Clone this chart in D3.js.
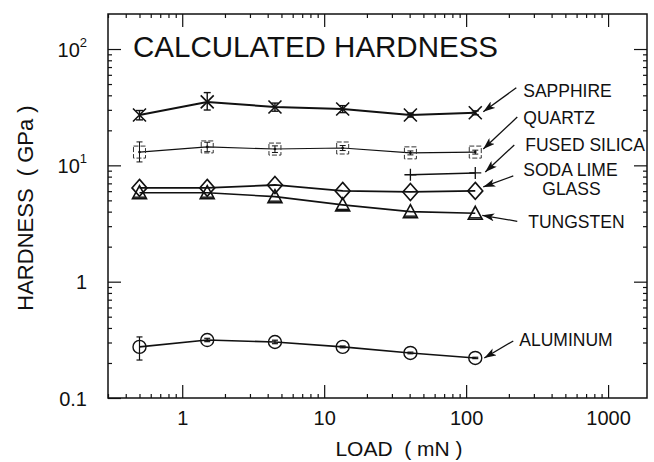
<!DOCTYPE html>
<html><head><meta charset="utf-8">
<script src="https://cdn.jsdelivr.net/npm/d3@7"></script>
<style>
body{margin:0;background:#fff}
svg{display:block}
text{font-family:"Liberation Sans",Arial,Helvetica,sans-serif;fill:#111}
</style>
</head><body>
<svg id="c" width="654" height="462"></svg>
<script>
// ---------- data ----------
const loads = [0.5, 1.5, 4.5, 13.5, 40.5, 116];
const sapphire     = [27.1, 35.1, 31.7, 30.5, 27.1, 28.3];
const sapphireLow  = [24.6, 29.9, 29.2, 28.4, 26.0, 27.2];
const sapphireHigh = [29.6, 42.2, 34.3, 32.6, 28.2, 29.4];
const quartz       = [13.0, 14.4, 13.8, 14.1, 12.8, 13.0];
const quartzLow    = [10.7, 13.1, 12.9, 13.4, 12.3, 12.5];
const quartzHigh   = [15.9, 15.8, 14.7, 14.8, 13.3, 13.5];
const fusedLoads   = [40.5, 116];
const fusedSilica  = [8.3, 8.6];
const sodaLime     = [6.40, 6.40, 6.78, 6.03, 5.91, 6.03];
const tungsten     = [5.82, 5.82, 5.38, 4.57, 4.00, 3.87];
const aluminum     = [0.275, 0.315, 0.303, 0.275, 0.244, 0.221];
const aluminumLow  = [0.212, 0.305, 0.293, 0.270, 0.240, 0.218];
const aluminumHigh = [0.335, 0.326, 0.314, 0.280, 0.248, 0.224];
const xTicks = [1, 10, 100, 1000];
const xTickLabels = ["1", "10", "100", "1000"];
const yTicks = [0.1, 1, 10, 100];
const yTickLabels = [["0.1", ""], ["1", ""], ["10", "1"], ["10", "2"]];
const seriesNames = ["SAPPHIRE", "QUARTZ", "FUSED SILICA", "SODA LIME|GLASS", "TUNGSTEN", "ALUMINUM"];
const title = "CALCULATED HARDNESS";
const xTitle = "LOAD  ( mN )";
const yTitle = "HARDNESS  ( GPa )";

// ---------- layout ----------
const svg = d3.select("#c");
const L = 108, R = 647, T = 14, B = 398;
const x = d3.scaleLog().domain([0.3, 1880]).range([L, R]);
const y = d3.scaleLog().domain([0.1, 200]).range([B, T]);

const minorX = [], minorY = [];
for (let e = -1; e <= 3; e++) for (let m = 2; m <= 9; m++) {
  const v = m * Math.pow(10, e);
  if (v > 0.3 && v < 1880) minorX.push(v);
  if (v > 0.1 && v < 200) minorY.push(v);
}

function axisStyle(g) {
  g.select(".domain").remove();
  g.selectAll("line").attr("stroke", "#111").attr("stroke-width", 1.2);
  g.selectAll("text").attr("fill", "#111").style("font-family", '"Liberation Sans",Arial,sans-serif');
}

// bottom
svg.append("g").attr("transform", `translate(0,${B})`)
  .call(d3.axisBottom(x).tickValues(minorX).tickSize(-4).tickFormat("")).call(axisStyle);
const gb = svg.append("g").attr("transform", `translate(0,${B})`)
  .call(d3.axisBottom(x).tickValues(xTicks).tickSize(-13).tickPadding(13)
    .tickFormat((d, i) => xTickLabels[i])).call(axisStyle);
gb.selectAll("text").attr("font-size", 20);
// top
svg.append("g").attr("transform", `translate(0,${T})`)
  .call(d3.axisTop(x).tickValues(minorX).tickSize(-4).tickFormat("")).call(axisStyle);
svg.append("g").attr("transform", `translate(0,${T})`)
  .call(d3.axisTop(x).tickValues(xTicks).tickSize(-13).tickFormat("")).call(axisStyle);
// left
svg.append("g").attr("transform", `translate(${L},0)`)
  .call(d3.axisLeft(y).tickValues(minorY).tickSize(-4).tickFormat("")).call(axisStyle);
const gl = svg.append("g").attr("transform", `translate(${L},0)`)
  .call(d3.axisLeft(y).tickValues(yTicks).tickSize(-13).tickPadding(21).tickFormat(() => ""))
  .call(axisStyle);
gl.selectAll(".tick text").each(function(d, i) {
  const t = d3.select(this).attr("font-size", 20).attr("dy", "0.36em");
  const lab = yTickLabels[i];
  t.append("tspan").text(lab[0]);
  if (lab[1]) t.append("tspan").attr("font-size", 13).attr("dy", "-0.75em").text(lab[1]);
});
// right
svg.append("g").attr("transform", `translate(${R},0)`)
  .call(d3.axisRight(y).tickValues(minorY).tickSize(-4).tickFormat("")).call(axisStyle);
svg.append("g").attr("transform", `translate(${R},0)`)
  .call(d3.axisRight(y).tickValues(yTicks.filter(v => v > 0.1)).tickSize(-13).tickFormat("")).call(axisStyle);

// frame
svg.append("rect").attr("x", L).attr("y", T).attr("width", R - L).attr("height", B - T)
  .attr("fill", "none").attr("stroke", "#111").attr("stroke-width", 1.5);

// titles
svg.append("text").attr("x", 133).attr("y", 57).attr("font-size", 29.5).text(title);
svg.append("text").attr("x", 399).attr("y", 456).attr("font-size", 21)
  .attr("text-anchor", "middle").style("white-space", "pre").attr("xml:space", "preserve").text(xTitle);
svg.append("text").attr("transform", "translate(33,208) rotate(-90)").attr("font-size", 22)
  .attr("text-anchor", "middle").attr("xml:space", "preserve").style("white-space", "pre").text(yTitle);

// ---------- series ----------
const line = d3.line().x(d => x(d[0])).y(d => y(d[1]));
const zip = (xs, ys) => xs.map((v, i) => [v, ys[i]]);
const plot = svg.append("g");

function drawLine(pts, w) {
  plot.append("path").attr("d", line(pts)).attr("fill", "none")
    .attr("stroke", "#111").attr("stroke-width", w).attr("stroke-linejoin", "round");
}
function drawErr(xs, lo, hi, cap, w) {
  xs.forEach((l, i) => {
    const cx = x(l), y1 = y(lo[i]), y2 = y(hi[i]);
    const g = plot.append("g").attr("stroke", "#111").attr("stroke-width", w);
    g.append("line").attr("x1", cx).attr("x2", cx).attr("y1", y1).attr("y2", y2);
    g.append("line").attr("x1", cx - cap).attr("x2", cx + cap).attr("y1", y1).attr("y2", y1);
    g.append("line").attr("x1", cx - cap).attr("x2", cx + cap).attr("y1", y2).attr("y2", y2);
  });
}

// sapphire
drawLine(zip(loads, sapphire), 2);
drawErr(loads, sapphireLow, sapphireHigh, 3.5, 1.4);
zip(loads, sapphire).forEach(([l, v]) => {
  const cx = x(l), cy = y(v), s = 6.5;
  plot.append("path").attr("d", `M${cx - s},${cy - s}L${cx + s},${cy + s}M${cx - s},${cy + s}L${cx + s},${cy - s}`)
    .attr("stroke", "#111").attr("stroke-width", 1.6).attr("fill", "none");
});

// quartz
drawLine(zip(loads, quartz), 1.1);
drawErr(loads, quartzLow, quartzHigh, 3, 1);
zip(loads, quartz).forEach(([l, v]) => {
  const cx = x(l), cy = y(v), s = 6;
  plot.append("rect").attr("x", cx - s).attr("y", cy - s).attr("width", 2 * s).attr("height", 2 * s)
    .attr("fill", "none").attr("stroke", "#333").attr("stroke-width", 1).attr("stroke-dasharray", "5,2");
  plot.append("circle").attr("cx", cx).attr("cy", cy).attr("r", 1.3).attr("fill", "#111");
});

// fused silica
drawLine(zip(fusedLoads, fusedSilica), 1.4);
zip(fusedLoads, fusedSilica).forEach(([l, v]) => {
  const cx = x(l), cy = y(v), s = 6;
  plot.append("path").attr("d", `M${cx - s},${cy}L${cx + s},${cy}M${cx},${cy - s}L${cx},${cy + s}`)
    .attr("stroke", "#111").attr("stroke-width", 1.3);
});

// soda lime glass
drawLine(zip(loads, sodaLime), 1.8);
zip(loads, sodaLime).forEach(([l, v]) => {
  const cx = x(l), cy = y(v), w = 7.5, h = 8.5;
  plot.append("path").attr("d", `M${cx},${cy - h}L${cx + w},${cy}L${cx},${cy + h}L${cx - w},${cy}Z`)
    .attr("fill", "none").attr("stroke", "#111").attr("stroke-width", 1.6);
});

// tungsten
drawLine(zip(loads, tungsten), 1.6);
zip(loads, tungsten).forEach(([l, v]) => {
  const cx = x(l), cy = y(v), w = 7, h = 12;
  plot.append("path").attr("d", `M${cx},${cy - h / 2 - 1}L${cx + w},${cy + h / 2}L${cx - w},${cy + h / 2}Z`)
    .attr("fill", "none").attr("stroke", "#111").attr("stroke-width", 1.6);
  plot.append("line").attr("x1", cx - w + 1).attr("x2", cx + w - 1).attr("y1", cy + h / 2 - 1.5).attr("y2", cy + h / 2 - 1.5)
    .attr("stroke", "#111").attr("stroke-width", 1.4);
});

// aluminum
drawLine(zip(loads, aluminum), 1.6);
drawErr(loads, aluminumLow, aluminumHigh, 3, 1.2);
zip(loads, aluminum).forEach(([l, v]) => {
  plot.append("circle").attr("cx", x(l)).attr("cy", y(v)).attr("r", 6.5)
    .attr("fill", "none").attr("stroke", "#111").attr("stroke-width", 1.4);
});

// ---------- labels with arrows (anchored to each series' last point) ----------
const lastVals = [sapphire[5], quartz[5], fusedSilica[1], sodaLime[5], tungsten[5], aluminum[5]];
const lastLoad = loads[5];
// offsets relative to last point: tip, tail, label position
const annot = [
  {tip: [8, -1], tail: [41, -25], lab: [48, -16]},
  {tip: [8, -3], tail: [42, -35], lab: [48, -28]},
  {tip: [10, -1], tail: [39, -28], lab: [50, -22]},
  {tip: [8, -4], tail: [38, -15], lab: [48, -15]},
  {tip: [7, 2], tail: [42, 8], lab: [53, 15]},
  {tip: [9, 0], tail: [38, -17], lab: [44, -12]}
];
const defs = svg.append("defs");
defs.append("marker").attr("id", "ah").attr("viewBox", "0 0 12 8").attr("refX", 12).attr("refY", 4)
  .attr("markerWidth", 12).attr("markerHeight", 8).attr("markerUnits", "userSpaceOnUse").attr("orient", "auto")
  .append("path").attr("d", "M0,0L12,4L0,8L3,4Z").attr("fill", "#111");

seriesNames.forEach((name, i) => {
  const px = x(lastLoad), py = y(lastVals[i]);
  const a = annot[i];
  svg.append("line").attr("x1", px + a.tail[0]).attr("y1", py + a.tail[1])
    .attr("x2", px + a.tip[0]).attr("y2", py + a.tip[1])
    .attr("stroke", "#111").attr("stroke-width", 1.3).attr("marker-end", "url(#ah)");
  const parts = name.split("|");
  const t = svg.append("text").attr("x", px + a.lab[0]).attr("y", py + a.lab[1]).attr("font-size", 17.5);
  t.append("tspan").text(parts[0]);
  if (parts[1]) t.append("tspan").attr("x", px + a.lab[0] + 19).attr("dy", 19).text(parts[1]);
});
</script>
</body></html>
